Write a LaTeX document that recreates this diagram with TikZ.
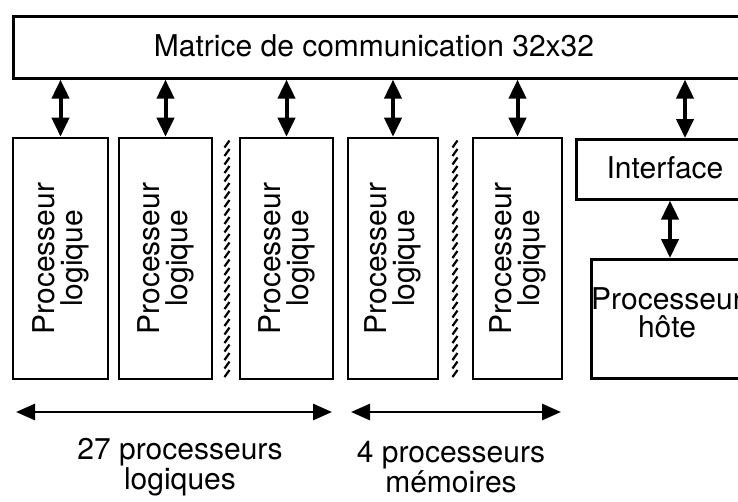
\documentclass[tikz,border=0pt]{standalone}
\usepackage{fontspec}
\setmainfont{TeX Gyre Heros}
\usetikzlibrary{arrows.meta,calc}

\begin{document}
\begin{tikzpicture}[x=1pt,y=-1pt,
        bloc/.style={draw,line width=2.6pt,inner sep=0pt},
        proc/.style={bloc,minimum height=241pt},
        txt/.style={font=\fontsize{30}{28}\selectfont,align=center,inner sep=0pt},
        dbl/.style={line width=4pt,{Triangle[width=17pt,length=19pt]}-{Triangle[width=17pt,length=19pt]}},
        dblh/.style={line width=2.8pt,{Triangle[width=16pt,length=19pt]}-{Triangle[width=16pt,length=19pt]}},
        hachure/.style={line width=2.2pt}]
        \useasboundingbox (0,0) rectangle (738,501);
        \clip (0,0) rectangle (738,501);

        % matrice de communication
        \node[bloc,anchor=north west,minimum width=760pt,minimum height=62pt] (mat) at (12,15) {};
        \node[txt] (matlbl) at (374,46) {Matrice de communication 32x32};

        % processeurs logiques et memoires
        \foreach \n/\x/\w in {1/60.5/95,2/165.5/93,3/286.5/93,4/393/90,5/517.5/89}{
            \node[proc,minimum width=\w pt] (p\n) at (\x,258.5) {};
            \node[txt,rotate=90] (t\n) at (p\n) {Processeur\\logique};
            \draw[dbl] (p\n.north) -- (p\n.north |- mat.south);
        }

        % separateurs hachures
        \foreach \hx in {227,455}
            \foreach \hy in {144,152.5,...,377}
                \draw[hachure] (\hx-2.5,\hy+3.5) -- (\hx+2.5,\hy-3.5);

        % interface
        \node[bloc,anchor=north west,minimum width=185pt,minimum height=60pt] (intf) at (575,138) {};
        \node[txt] (intflbl) at (665,168) {Interface};
        \draw[dbl] (intf.north west) ++(110,0) coordinate (ia) -- (ia |- mat.south);

        % processeur hote
        \node[bloc,anchor=north west,minimum width=170pt,minimum height=119pt] (hote) at (590,258) {};
        \node[txt] (hotelbl) at (667,313) {Processeur\\hôte};
        \draw[dbl] (hote.north west) ++(80,0) coordinate (hb) -- (hb |- intf.south);

        % accolades du bas
        \coordinate (g1) at (16,412);
        \coordinate (g2) at (332,412);
        \coordinate (m1) at (351,412);
        \coordinate (m2) at (561,412);
        \draw[dblh] (g1) -- (g2);
        \draw[dblh] (m1) -- (m2);
        \node[txt] (lg) at (180,467) {27 processeurs\\logiques};
        \node[txt] (lm) at (451,467) {4 processeurs\\mémoires};
    \end{tikzpicture}
\end{document}
